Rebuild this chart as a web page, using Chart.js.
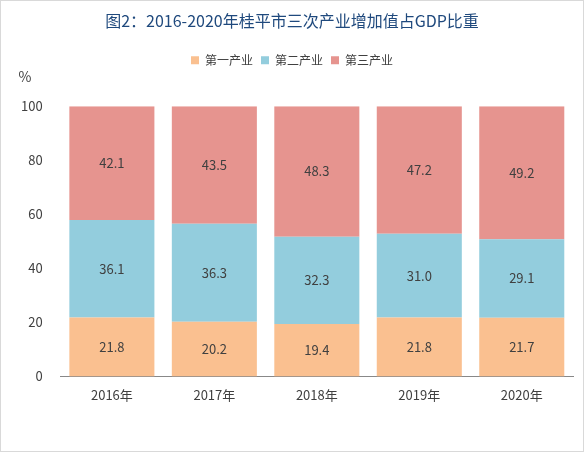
<!DOCTYPE html>
<html><head><meta charset="utf-8">
<script src="https://cdn.jsdelivr.net/npm/chart.js@4"></script>
<style>
html,body{margin:0;padding:0;background:#fff;}
#wrap{position:relative;width:582px;height:450px;border:1px solid #d9d9d9;}
</style></head>
<body><div id="wrap"><canvas id="c" width="582" height="450"></canvas></div>
<script>
var years = ['2016年', '2017年', '2018年', '2019年', '2020年'];
var primary = [21.8, 20.2, 19.4, 21.8, 21.7];
var secondary = [36.1, 36.3, 32.3, 31.0, 29.1];
var tertiary = [42.1, 43.5, 48.3, 47.2, 49.2];
var yTicks = [0, 20, 40, 60, 80, 100];

var font = '"Noto Sans CJK SC", "Noto Sans", sans-serif';

var labelPlugin = {
    id: 'labels',
    beforeInit: function (chart) {
        var origFit = chart.legend.fit;
        chart.legend.fit = function () { origFit.bind(chart.legend)(); this.height += 30; };
    },
    afterDatasetsDraw: function (chart) {
        var ctx = chart.ctx;
        ctx.save();
        ctx.font = '13px ' + font;
        ctx.fillStyle = '#404040';
        ctx.textAlign = 'center';
        ctx.textBaseline = 'middle';
        chart.data.datasets.forEach(function (ds, i) {
            chart.getDatasetMeta(i).data.forEach(function (bar, j) {
                ctx.fillText(ds.data[j].toFixed(1), bar.x, (bar.y + bar.base) / 2);
            });
        });
        ctx.font = '14px ' + font;
        ctx.fillText('%', 24, 76);
        ctx.restore();
    }
};

function ds(label, data, color) {
    return { label: label, data: data, backgroundColor: color, barPercentage: 0.83, categoryPercentage: 1 };
}

new Chart(document.getElementById('c'), {
    type: 'bar',
    data: {
        labels: years,
        datasets: [
            ds('第一产业', primary, '#FAC090'),
            ds('第二产业', secondary, '#93CDDD'),
            ds('第三产业', tertiary, '#E6948F')
        ]
    },
    options: {
        responsive: false,
        animation: false,
        layout: { padding: { left: 10, right: 10, top: 4, bottom: 45 } },
        plugins: {
            title: {
                display: true,
                text: '图2：2016-2020年桂平市三次产业增加值占GDP比重',
                color: '#1F497D',
                font: { family: font, size: 16, weight: 'normal' },
                padding: { top: 6, bottom: 16 }
            },
            legend: {
                labels: { boxWidth: 8, boxHeight: 8, color: '#404040', font: { family: font, size: 12 }, padding: 8 }
            },
            tooltip: { enabled: false }
        },
        scales: {
            x: {
                stacked: true,
                grid: { display: false },
                border: { color: '#888' },
                ticks: { color: '#404040', font: { family: font, size: 13 } }
            },
            y: {
                stacked: true,
                min: 0, max: 100,
                afterBuildTicks: function (a) { a.ticks = yTicks.map(function (v) { return { value: v }; }); },
                grid: { display: false },
                border: { display: false },
                ticks: { color: '#404040', padding: 10, font: { family: font, size: 13 } }
            }
        }
    },
    plugins: [labelPlugin]
});
</script></body></html>
